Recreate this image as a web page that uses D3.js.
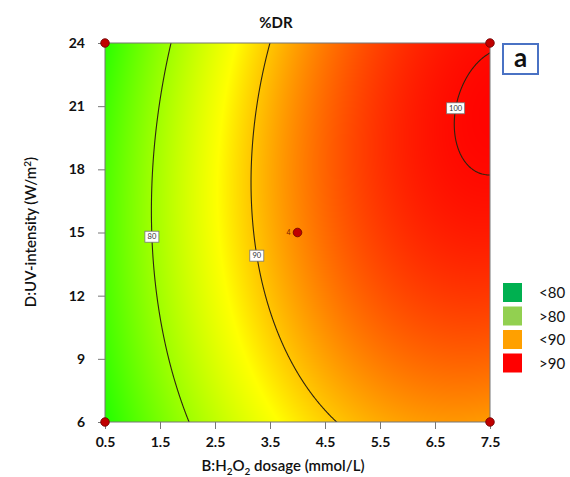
<!DOCTYPE html>
<html>
<head>
<meta charset="utf-8">
<script src="https://cdn.jsdelivr.net/npm/d3@7"></script>
<style>
  body { margin: 0; background: #fff; }
  svg text { font-family: Lato, "Open Sans", sans-serif; }
</style>
</head>
<body>
<svg id="chart" width="570" height="477"></svg>
<script>
// ======= data =============================

// points on each contour line, B = H2O2 dosage, D = UV intensity
var contour80B = [1.68, 1.49, 1.37, 1.36, 1.45, 1.66, 2.04];
var contour80D = [24, 21.05, 17.9, 15.06, 11.94, 8.8, 6.01];
var contour90B = [3.47, 3.31, 3.22, 3.17, 3.19, 3.26, 3.38, 3.57, 3.9, 4.35, 4.72];
var contour90D = [24, 21.05, 19.47, 17.9, 15.06, 13.84, 11.94, 10.36, 8.8, 7.2, 6.01];
var contour100B = [7.5, 7.2, 6.93, 6.82, 6.9, 7.17, 7.5];
var contour100D = [23.5, 22.63, 21.52, 20.1, 18.84, 17.97, 17.7];

var levels = [80, 90, 100];
var labelD = [14.8, 13.9, 20.9];   // where each contour label sits

// %DR values where the fill turns yellow and fully red
var yellowAt = 87, redAt = 100.5;

var xTicks = [0.5, 1.5, 2.5, 3.5, 4.5, 5.5, 6.5, 7.5];
var yTicks = [6, 9, 12, 15, 18, 21, 24];

var designB = [0.5, 0.5, 7.5, 7.5, 4];
var designD = [6, 24, 6, 24, 15];

var legendLabels = ["<80", ">80", "<90", ">90"];
var legendColors = ["#00b050", "#92d050", "#ffa000", "#ff0000"];

// ======= layout ========

var plotLeft = 105, plotRight = 490, plotTop = 43, plotBottom = 422;

var svg = d3.select("#chart");

var x = d3.scaleLinear().domain([0.5, 7.5]).range([plotLeft, plotRight]);
var y = d3.scaleLinear().domain([6, 24]).range([plotBottom, plotTop]);

// ======= quadratic surface fitted through the contour points ========

function terms(B, D) {
  var b = (B - 4) / 3.5, d = (D - 15) / 9;
  return [1, b, d, b * d, b * b, d * d];
}

var rows = [], rhs = [];
[[contour80B, contour80D], [contour90B, contour90D], [contour100B, contour100D]].forEach(function(c, k) {
  c[0].forEach(function(B, i) {
    rows.push(terms(B, c[1][i]));
    rhs.push(levels[k]);
  });
});

// least squares via normal equations
var n = 6;
var M = d3.range(n).map(function(i) {
  var row = d3.range(n).map(function(j) { return d3.sum(rows, function(r) { return r[i] * r[j]; }); });
  row.push(d3.sum(rows, function(r, k) { return r[i] * rhs[k]; }));
  return row;
});
for (var i = 0; i < n; i++) {
  var p = i;
  for (var k = i + 1; k < n; k++) if (Math.abs(M[k][i]) > Math.abs(M[p][i])) p = k;
  var tmp = M[i]; M[i] = M[p]; M[p] = tmp;
  for (var k = 0; k < n; k++) {
    if (k === i) continue;
    var f = M[k][i] / M[i][i];
    for (var j = i; j <= n; j++) M[k][j] -= f * M[i][j];
  }
}
var coef = M.map(function(r, i) { return r[n] / r[i]; });

function model(B, D) {
  var t = terms(B, D);
  return d3.sum(t, function(v, i) { return v * coef[i]; });
}

// ======= colour fill ========

var w = plotRight - plotLeft, h = plotBottom - plotTop;
var vals = [];
for (var j = 0; j < h; j++) for (var i = 0; i < w; i++)
  vals.push(model(x.invert(plotLeft + i + 0.5), y.invert(plotTop + j + 0.5)));
var vmin = d3.min(vals);

var color = d3.scaleLinear()
  .domain([vmin, yellowAt, redAt])
  .range(["#22ff00", "#ffff00", "#ff0000"])
  .clamp(true);

var canvas = document.createElement("canvas");
canvas.width = w; canvas.height = h;
var ctx = canvas.getContext("2d");
var img = ctx.createImageData(w, h);
vals.forEach(function(v, k) {
  var c = d3.rgb(color(v));
  img.data[k * 4] = c.r; img.data[k * 4 + 1] = c.g; img.data[k * 4 + 2] = c.b; img.data[k * 4 + 3] = 255;
});
ctx.putImageData(img, 0, 0);

svg.append("image")
  .attr("x", plotLeft).attr("y", plotTop)
  .attr("width", w).attr("height", h)
  .attr("preserveAspectRatio", "none")
  .attr("href", canvas.toDataURL());

// ======= contour lines ========

svg.append("clipPath").attr("id", "plotClip")
  .append("rect").attr("x", plotLeft).attr("y", plotTop).attr("width", w).attr("height", h);

// grid reaches past the frame so the contour rings close outside the clip
var gB0 = 0, gD0 = 4.5, step = 0.04;
var nx = Math.round(8 / step) + 1, ny = Math.round(21 / step) + 1;
var grid = [];
for (var j = 0; j < ny; j++) for (var i = 0; i < nx; i++) grid.push(model(gB0 + i * step, gD0 + j * step));

var contours = d3.contours().size([nx, ny]).thresholds(levels)(grid);

var gridToPx = d3.geoTransform({
  point: function(gx, gy) {
    this.stream.point(x(gB0 + (gx - 0.5) * step), y(gD0 + (gy - 0.5) * step));
  }
});

svg.append("g")
  .attr("clip-path", "url(#plotClip)")
  .selectAll("path")
  .data(contours)
  .enter().append("path")
    .attr("d", d3.geoPath(gridToPx))
    .attr("fill", "none")
    .attr("stroke", "#2e2410")
    .attr("stroke-width", 1.1);

// contour labels
levels.forEach(function(L, k) {
  var lo = 0.5, hi = 7.5;
  for (var it = 0; it < 40; it++) {
    var mid = (lo + hi) / 2;
    if (model(mid, labelD[k]) < L) lo = mid; else hi = mid;
  }
  var cx = x(lo), cy = y(labelD[k]);
  var bw = L >= 100 ? 18 : 14;
  var g = svg.append("g").attr("transform", "translate(" + cx + "," + cy + ")");
  g.append("rect")
    .attr("x", -bw / 2).attr("y", -5.5).attr("width", bw).attr("height", 11)
    .attr("fill", "#fff").attr("stroke", "#777").attr("stroke-width", 0.8);
  g.append("text")
    .attr("text-anchor", "middle").attr("dy", "0.35em")
    .style("font-size", "7.5px").style("fill", "#333")
    .text(L);
});

// ======= frame and axes ========

svg.append("rect")
  .attr("x", plotLeft).attr("y", plotTop).attr("width", w).attr("height", h)
  .attr("fill", "none").attr("stroke", "#777").attr("stroke-width", 1);

var xAxis = svg.append("g")
  .attr("transform", "translate(0," + plotBottom + ")")
  .call(d3.axisBottom(x).tickValues(xTicks).tickSize(7).tickPadding(8).tickFormat(d3.format(".1f")));
var yAxis = svg.append("g")
  .attr("transform", "translate(" + plotLeft + ",0)")
  .call(d3.axisLeft(y).tickValues(yTicks).tickSize(7).tickPadding(13));

[xAxis, yAxis].forEach(function(a) {
  a.select(".domain").remove();
  a.selectAll(".tick line").attr("stroke", "#777");
  a.selectAll(".tick text")
    .style("font-size", "14px").style("font-weight", "bold")
    .style("font-family", "Lato, 'Open Sans', sans-serif").attr("fill", "#111");
});

// design points
svg.selectAll(".design")
  .data(designB)
  .enter().append("circle")
    .attr("class", "design")
    .attr("cx", function(d) { return x(d); })
    .attr("cy", function(d, i) { return y(designD[i]); })
    .attr("r", 4.3)
    .attr("fill", "#c00000")
    .attr("stroke", "#6a0000")
    .attr("stroke-width", 0.8);

svg.append("text")
  .attr("x", x(4) - 7).attr("y", y(15)).attr("dy", "0.35em")
  .attr("text-anchor", "end")
  .style("font-size", "7px").style("fill", "#7a1a00")
  .text("4");

// ======= titles ========

svg.append("text")
  .attr("x", 276).attr("y", 28)
  .attr("text-anchor", "middle")
  .style("font-size", "15px").style("font-weight", "bold").style("fill", "#111")
  .text("%DR");

var xl = svg.append("text")
  .attr("x", 283).attr("y", 471)
  .attr("text-anchor", "middle")
  .style("font-size", "15px").style("font-weight", "600").style("fill", "#111");
xl.append("tspan").text("B:H");
xl.append("tspan").attr("dy", 4).style("font-size", "10px").text("2");
xl.append("tspan").attr("dy", -4).text("O");
xl.append("tspan").attr("dy", 4).style("font-size", "10px").text("2");
xl.append("tspan").attr("dy", -4).text(" dosage (mmol/L)");

var yl = svg.append("text")
  .attr("transform", "translate(36,232) rotate(-90)")
  .attr("text-anchor", "middle")
  .style("font-size", "15px").style("font-weight", "600").style("fill", "#111");
yl.append("tspan").text("D:UV-intensity (W/m");
yl.append("tspan").attr("dy", -5).style("font-size", "10px").text("2");
yl.append("tspan").attr("dy", 5).text(")");

// panel tag
svg.append("rect")
  .attr("x", 503).attr("y", 44).attr("width", 35).attr("height", 30)
  .attr("fill", "#fff").attr("stroke", "#4a72c4").attr("stroke-width", 2);
svg.append("text")
  .attr("x", 520.5).attr("y", 67)
  .attr("text-anchor", "middle")
  .style("font-size", "26px").style("font-weight", "bold").style("fill", "#111")
  .text("a");

// ======= legend ========

var legend = svg.append("g").attr("class", "legend");
legend.selectAll("rect")
  .data(legendLabels)
  .enter().append("rect")
    .attr("x", 503)
    .attr("y", function(d, i) { return 283 + i * 23.5; })
    .attr("width", 19).attr("height", 19)
    .attr("fill", function(d, i) { return legendColors[i]; });
legend.selectAll("text")
  .data(legendLabels)
  .enter().append("text")
    .attr("x", 539)
    .attr("y", function(d, i) { return 293 + i * 23.5; })
    .attr("dy", "0.35em")
    .style("font-size", "15px").style("fill", "#111")
    .text(function(d) { return d; });
</script>
</body>
</html>
